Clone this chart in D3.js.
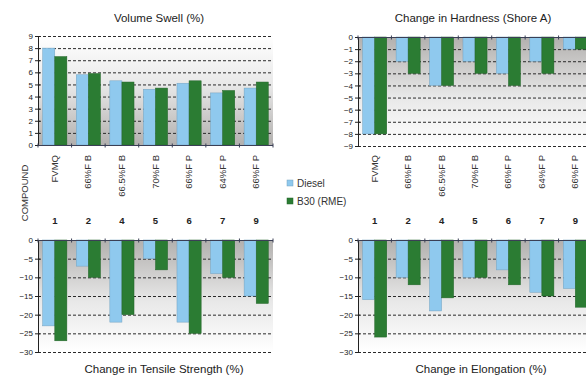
<!DOCTYPE html>
<html>
<head>
<meta charset="utf-8">
<script src="https://cdn.jsdelivr.net/npm/d3@7"></script>
<style>
  html, body { margin: 0; padding: 0; background: #fff; }
  svg { display: block; font-family: "Liberation Sans", Arial, sans-serif; }
</style>
</head>
<body>
<svg id="chart" width="586" height="378"></svg>
<script>
// Compound identifiers and descriptions
const compounds = ["1", "2", "4", "5", "6", "7", "9"];
const compoundNames = ["FVMQ", "66%F B", "66.5%F B", "70%F B", "66%F P", "64%F P", "66%F P"];
const seriesNames = ["Diesel", "B30 (RME)"];
const seriesColors = ["#8fc9ee", "#2b7c33"];

// Volume swell (%)
const swellDiesel = [8.0, 5.8, 5.3, 4.6, 5.1, 4.3, 4.7];
const swellB30    = [7.3, 5.9, 5.2, 4.7, 5.3, 4.5, 5.2];
// Change in hardness (Shore A)
const hardnessDiesel = [-8, -2, -4, -2, -3, -2, -1];
const hardnessB30    = [-8, -3, -4, -3, -4, -3, -1];
// Change in tensile strength (%)
const tensileDiesel = [-23, -7, -22, -5, -22, -9, -15];
const tensileB30    = [-27, -10, -20, -8, -25, -10, -17];
// Change in elongation (%)
const elongDiesel = [-16, -10, -19, -10, -8, -14, -13];
const elongB30    = [-26, -12, -15.5, -10, -12, -15, -18];

// Tick values for each panel
const swellTicks = [0, 1, 2, 3, 4, 5, 6, 7, 8, 9];
const hardnessTicks = [0, -1, -2, -3, -4, -5, -6, -7, -8, -9];
const pctTicks = [0, -5, -10, -15, -20, -25, -30];

const svg = d3.select("#chart");
const defs = svg.append("defs");

function panel(cfg) {
  const { id, left, right, top, bottom, domain, ticks, a, b, title, titleX, titleY } = cfg;
  const positive = domain[0] >= 0;
  const y = d3.scaleLinear().domain(domain).range([bottom, top]);
  const x0 = d3.scaleBand().domain(compounds).range([left, right]);
  const x1 = d3.scaleBand().domain(seriesNames)
    .range([x0.bandwidth() * 0.14, x0.bandwidth() * 0.86]);

  // background gradient: grey at the zero line fading to white
  const grad = defs.append("linearGradient").attr("id", "bg" + id)
    .attr("x1", 0).attr("x2", 0)
    .attr("y1", positive ? 1 : 0).attr("y2", positive ? 0 : 1);
  grad.append("stop").attr("offset", "0%").attr("stop-color", "#b2b0ae");
  grad.append("stop").attr("offset", "55%").attr("stop-color", "#e8e8e8");
  grad.append("stop").attr("offset", "100%").attr("stop-color", "#ffffff");

  const g = svg.append("g");
  g.append("rect").attr("x", left).attr("y", top)
    .attr("width", right - left).attr("height", bottom - top)
    .attr("fill", `url(#bg${id})`);

  // dashed gridlines
  g.selectAll(".grid").data(ticks.filter(t => t !== 0)).join("line")
    .attr("x1", left).attr("x2", right)
    .attr("y1", d => y(d) + 0.5).attr("y2", d => y(d) + 0.5)
    .attr("stroke", "#2a2a2a").attr("stroke-width", 1)
    .attr("stroke-dasharray", "3,2");

  // bars
  const rows = compounds.map((c, i) => ({ c, vals: [a[i], b[i]] }));
  const grp = g.selectAll(".grp").data(rows).join("g")
    .attr("transform", d => `translate(${x0(d.c)},0)`);
  grp.selectAll("rect").data(d => d.vals.map((v, k) => ({ v, k }))).join("rect")
    .attr("x", d => x1(seriesNames[d.k]))
    .attr("width", x1.bandwidth())
    .attr("y", d => Math.min(y(0), y(d.v)))
    .attr("height", d => Math.abs(y(d.v) - y(0)))
    .attr("fill", d => seriesColors[d.k])
    .attr("stroke", d => d3.color(seriesColors[d.k]).darker(0.6))
    .attr("stroke-width", 0.5);

  // value axis
  const yAxis = d3.axisLeft(y).tickValues(ticks).tickSize(4).tickSizeOuter(0)
    .tickFormat(d3.format("d"));
  const ya = g.append("g").attr("transform", `translate(${left},0)`).call(yAxis);
  ya.select(".domain").attr("stroke", "#222");
  ya.selectAll(".tick line").attr("stroke", "#222").attr("x2", 2).attr("x1", -3);
  ya.selectAll(".tick text").attr("font-size", 8).attr("fill", "#222").attr("x", -5);

  // category axis along the zero line
  const y0 = Math.round(y(0)) + 0.5;
  g.append("line").attr("x1", left).attr("x2", right).attr("y1", y0).attr("y2", y0)
    .attr("stroke", "#3a3f55").attr("stroke-width", 1.2);
  g.selectAll(".ct").data(compounds.concat(["end"])).join("line")
    .attr("x1", (d, i) => left + i * x0.step()).attr("x2", (d, i) => left + i * x0.step())
    .attr("y1", y0 - 2).attr("y2", y0 + 2)
    .attr("stroke", "#3a3f55");

  svg.append("text").attr("x", titleX).attr("y", titleY)
    .attr("text-anchor", "middle").attr("font-size", 11.5).attr("fill", "#222")
    .text(title);

  return x0;
}

const xl = panel({ id: "sw", left: 38, right: 273, top: 36, bottom: 145,
  domain: [0, 9], ticks: swellTicks, a: swellDiesel, b: swellB30,
  title: "Volume Swell (%)", titleX: 159, titleY: 22 });
const xr = panel({ id: "hd", left: 358, right: 592, top: 37, bottom: 146,
  domain: [-9, 0], ticks: hardnessTicks, a: hardnessDiesel, b: hardnessB30,
  title: "Change in Hardness (Shore A)", titleX: 473, titleY: 22 });
panel({ id: "ts", left: 38, right: 273, top: 240, bottom: 352,
  domain: [-30, 0], ticks: pctTicks, a: tensileDiesel, b: tensileB30,
  title: "Change in Tensile Strength (%)", titleX: 164, titleY: 373 });
panel({ id: "el", left: 358, right: 592, top: 240, bottom: 352,
  domain: [-30, 0], ticks: pctTicks, a: elongDiesel, b: elongB30,
  title: "Change in Elongation (%)", titleX: 481, titleY: 373 });

// compound labels between the rows of panels
[xl, xr].forEach(x0 => {
  const lab = svg.append("g");
  lab.selectAll(".nm").data(compounds).join("text")
    .attr("transform", (d, i) => `translate(${x0(d) + x0.bandwidth() / 2 + 3},155) rotate(-90)`)
    .attr("text-anchor", "end").attr("font-size", 9.5).attr("fill", "#333")
    .text((d, i) => compoundNames[i]);
  lab.selectAll(".num").data(compounds).join("text")
    .attr("x", d => x0(d) + x0.bandwidth() / 2).attr("y", 224)
    .attr("text-anchor", "middle").attr("font-size", 9.5).attr("font-weight", "bold")
    .attr("fill", "#222").text(d => d);
});

svg.append("text").attr("transform", "translate(28,193) rotate(-90)")
  .attr("text-anchor", "middle").attr("font-size", 9.5).attr("fill", "#333")
  .text("COMPOUND");

// legend
const legend = svg.append("g").attr("transform", "translate(287,180)");
seriesNames.forEach((s, i) => {
  legend.append("rect").attr("x", 0).attr("y", i * 18).attr("width", 6).attr("height", 6)
    .attr("fill", seriesColors[i]).attr("stroke", d3.color(seriesColors[i]).darker(0.6))
    .attr("stroke-width", 0.5);
  legend.append("text").attr("x", 10).attr("y", i * 18 + 7)
    .attr("font-size", 10).attr("fill", "#333").text(s);
});
</script>
</body>
</html>
